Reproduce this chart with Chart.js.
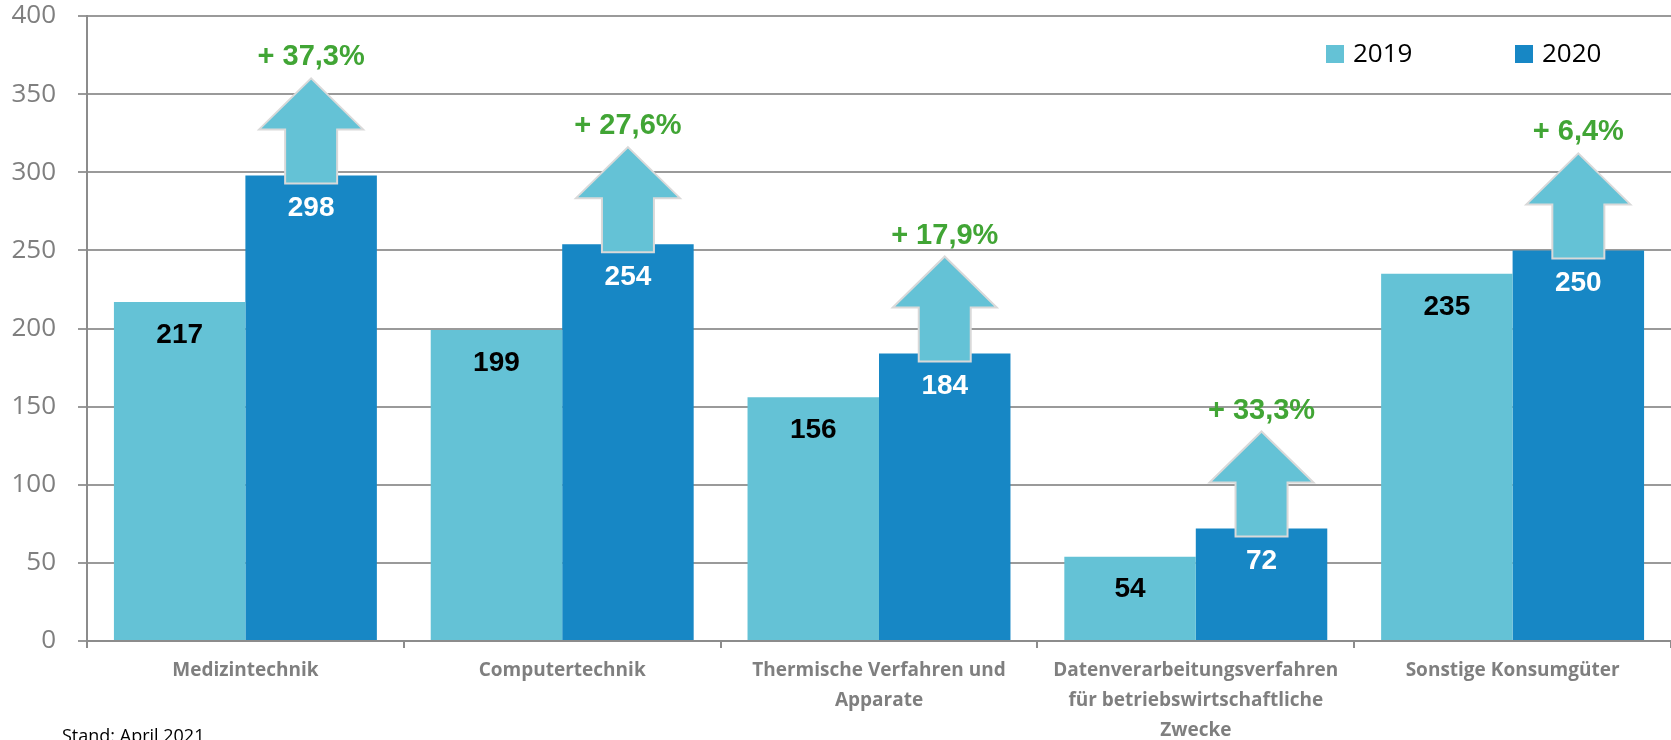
<!DOCTYPE html>
<html>
<head>
<meta charset="utf-8">
<script src="https://cdn.jsdelivr.net/npm/chart.js@4.4.1/dist/chart.umd.min.js"></script>
<style>
  body { margin: 0; background: #fff; }
</style>
</head>
<body>
<canvas id="umsatzChart" width="1671" height="740"></canvas>
<script>
// values
const categories = [
  'Medizintechnik',
  'Computertechnik',
  ['Thermische Verfahren und', 'Apparate'],
  ['Datenverarbeitungsverfahren', 'für betriebswirtschaftliche', 'Zwecke'],
  'Sonstige Konsumgüter'
];
const values2019 = [217, 199, 156, 54, 235];
const values2020 = [298, 254, 184, 72, 250];
const growthLabels = ['+ 37,3%', '+ 27,6%', '+ 17,9%', '+ 33,3%', '+ 6,4%'];
const yTicks = [0, 50, 100, 150, 200, 250, 300, 350, 400];

const LIGHT = '#64c2d6';
const DARK = '#1787c5';
const GREEN = '#41a535';
const GREY = '#7f7f7f';

// labels, arrows, legend and footnote
const extras = {
  id: 'extras',
  afterDatasetsDraw(chart) {
    const ctx = chart.ctx;
    const area = chart.chartArea;
    const light = chart.getDatasetMeta(0).data;
    const dark = chart.getDatasetMeta(1).data;

    ctx.save();

    // arrows on top of the 2020 bars
    dark.forEach((bar, i) => {
      const cx = bar.x;
      const bottom = bar.y + 8;
      const tip = bottom - 105;
      const headBase = tip + 51;
      ctx.beginPath();
      ctx.moveTo(cx, tip);
      ctx.lineTo(cx + 52, headBase);
      ctx.lineTo(cx + 26, headBase);
      ctx.lineTo(cx + 26, bottom);
      ctx.lineTo(cx - 26, bottom);
      ctx.lineTo(cx - 26, headBase);
      ctx.lineTo(cx - 52, headBase);
      ctx.closePath();
      ctx.fillStyle = LIGHT;
      ctx.fill();
      ctx.lineWidth = 2;
      ctx.strokeStyle = '#d9d9d9';
      ctx.stroke();

      ctx.fillStyle = GREEN;
      ctx.font = 'bold 29px "Liberation Sans", Arial, sans-serif';
      ctx.textAlign = 'center';
      ctx.textBaseline = 'middle';
      ctx.fillText(growthLabels[i], cx, tip - 21);
    });

    // value labels inside the bars
    ctx.font = 'bold 28px "Liberation Sans", Arial, sans-serif';
    ctx.textAlign = 'center';
    ctx.textBaseline = 'middle';
    light.forEach((bar, i) => {
      ctx.fillStyle = '#000';
      ctx.fillText(String(values2019[i]), bar.x, bar.y + 33);
    });
    dark.forEach((bar, i) => {
      ctx.fillStyle = '#fff';
      ctx.fillText(String(values2020[i]), bar.x, bar.y + 33);
    });

    // legend inside the plot
    const items = [
      { text: '2019', color: LIGHT, x: area.right - 345 },
      { text: '2020', color: DARK, x: area.right - 156 }
    ];
    const ly = area.top + 29;
    ctx.font = '26px "Open Sans", sans-serif';
    ctx.textAlign = 'left';
    ctx.textBaseline = 'middle';
    items.forEach(it => {
      ctx.fillStyle = it.color;
      ctx.fillRect(it.x, ly, 18, 18);
      ctx.fillStyle = '#000';
      ctx.fillText(it.text, it.x + 27, ly + 10);
    });

    // footnote
    ctx.font = '18px "Open Sans", sans-serif';
    ctx.textBaseline = 'alphabetic';
    ctx.fillStyle = '#000';
    ctx.fillText('Stand: April 2021', 62, 742);

    ctx.restore();
  }
};

new Chart(document.getElementById('umsatzChart'), {
  type: 'bar',
  data: {
    labels: categories,
    datasets: [
      { label: '2019', data: values2019, backgroundColor: LIGHT },
      { label: '2020', data: values2020, backgroundColor: DARK }
    ]
  },
  options: {
    responsive: false,
    animation: false,
    layout: { padding: { top: 16, right: 0, bottom: 0, left: 0 } },
    datasets: {
      bar: { barPercentage: 1, categoryPercentage: 0.83 }
    },
    plugins: {
      legend: { display: false },
      tooltip: { enabled: false }
    },
    scales: {
      x: {
        grid: {
          offset: true,
          drawOnChartArea: false,
          drawTicks: true,
          tickLength: 7,
          color: '#8c8c8c',
          lineWidth: 2
        },
        border: { color: '#8c8c8c', width: 2 },
        ticks: {
          color: GREY,
          padding: 8,
          maxRotation: 0,
          autoSkip: false,
          font: { family: '"Open Sans", sans-serif', size: 19, weight: 'bold', lineHeight: 1.58 }
        },
        afterFit(scale) { scale.height = 99; }
      },
      y: {
        min: 0,
        max: 400,
        afterBuildTicks(scale) { scale.ticks = yTicks.map(v => ({ value: v })); },
        grid: {
          color: '#9a9a9a',
          lineWidth: 2,
          tickLength: 9
        },
        border: { color: '#8c8c8c', width: 2 },
        ticks: {
          color: GREY,
          padding: 22,
          font: { family: '"Open Sans", sans-serif', size: 26 }
        },
        afterFit(scale) {
          scale.width = 87;
          // tick padding would otherwise push the plot down
          scale.paddingTop = 0;
          scale.paddingBottom = 0;
        }
      }
    }
  },
  plugins: [extras]
});
</script>
</body>
</html>
